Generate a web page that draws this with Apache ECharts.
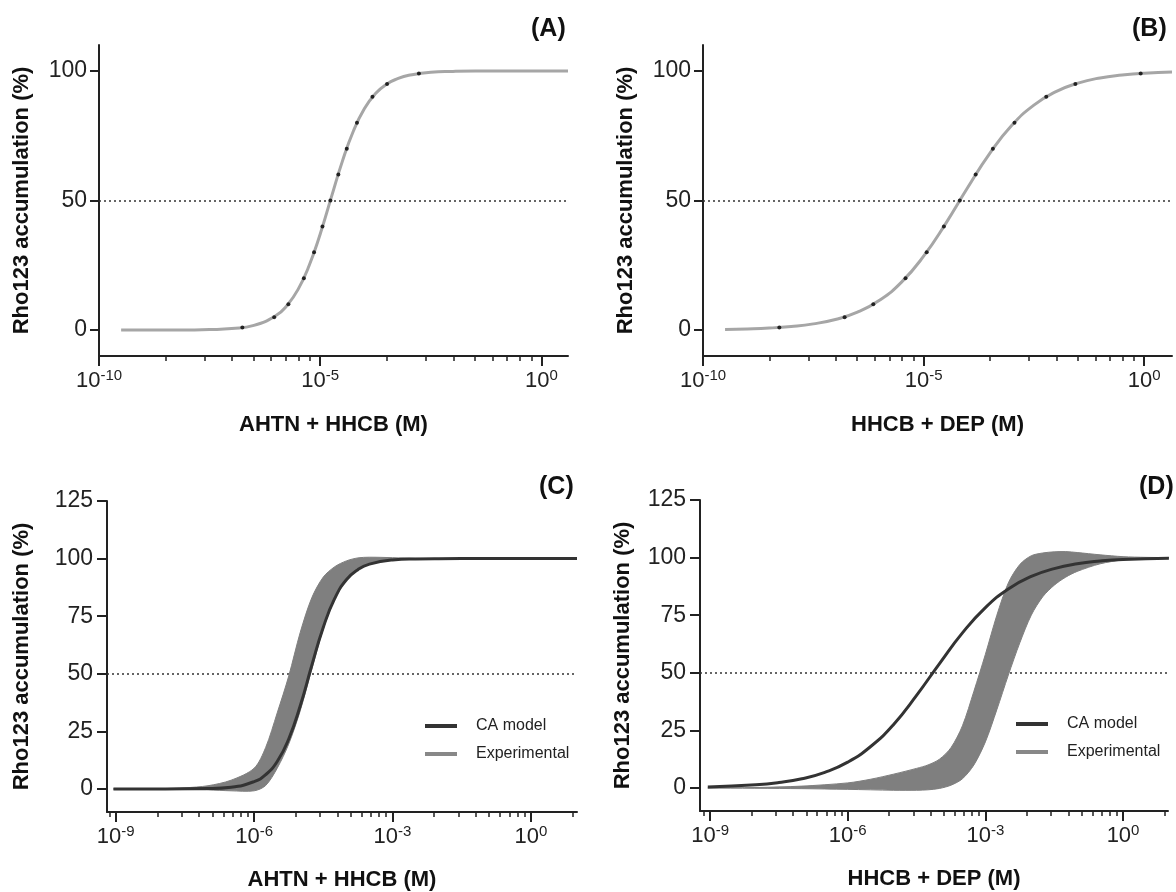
<!DOCTYPE html>
<html><head><meta charset="utf-8">
<script src="https://cdn.jsdelivr.net/npm/echarts@6/dist/echarts.min.js"></script>
<style>html,body{margin:0;padding:0;background:#fff}#c{width:1176px;height:892px}</style>
</head><body><div id="c"></div>
<script>
// ---------- data ----------
const panelLabels = ['(A)', '(B)', '(C)', '(D)'];
const xTitles = ['AHTN + HHCB (M)', 'HHCB + DEP (M)', 'AHTN + HHCB (M)', 'HHCB + DEP (M)'];
const yTitle = 'Rho123 accumulation (%)';
const legendNames = ['CA model', 'Experimental'];
const yTicksTop = [0, 50, 100];
const yTicksBottom = [0, 25, 50, 75, 100, 125];
const xMajorExpTop = [-10, -5, 0];
const xMajorExpBottom = [-9, -6, -3, 0];
const referenceLevel = 50;

// Panel A: fitted curve + points (x as log10 M)
const aCurveLogX = [-9.5,-9,-8.5,-8,-7.5,-7,-6.5,-6,-5.75,-5.5,-5.25,-5,-4.75,-4.5,-4.25,-4,-3.75,-3.5,-3.25,-3,-2.5,-2,-1.5,-1,0,0.6];
const aCurveY    = [0,0.01,0.02,0.06,0.19,0.59,1.8,5.6,9.5,15.7,24.9,37.1,51.2,65.1,76.8,85.5,91.3,94.9,97.0,98.3,99.5,99.8,99.95,99.98,100,100];
const aDotLogX = [-6.76,-6.04,-5.72,-5.37,-5.14,-4.95,-4.77,-4.59,-4.40,-4.17,-3.82,-3.49,-2.77];
const aDotY    = [1,5,10,20,30,40,50,60,70,80,90,95,99];

// Panel B
const bCurveLogX = [-9.5,-9,-8.5,-8,-7.5,-7,-6.5,-6,-5.5,-5,-4.5,-4,-3.5,-3,-2.5,-2,-1.5,-1,-0.5,0,0.63];
const bCurveY    = [0.26,0.45,0.78,1.4,2.4,4.1,6.9,11.5,18.5,28.5,41.1,55.0,68.2,79.0,86.8,92.0,95.3,97.3,98.4,99.1,99.55];
const bDotLogX = [-8.27,-6.79,-6.14,-5.41,-4.93,-4.54,-4.18,-3.82,-3.43,-2.94,-2.22,-1.56,-0.08];
const bDotY    = [1,5,10,20,30,40,50,60,70,80,90,95,99];

// Panel C: CA model line + experimental band
const cModelLogX = [-9.05,-8,-7,-6.5,-6,-5.75,-5.5,-5.25,-5,-4.75,-4.5,-4.25,-4,-3.75,-3.5,-3,-2.5,-2,-1,0,1];
const cModelY    = [0,0.01,0.19,0.77,3.2,6.2,11.9,21.7,36.1,53.6,70.2,82.8,90.8,95.2,97.6,99.4,99.86,99.97,100,100,100];
const cUpperLogX = [-9.05,-8,-7.5,-7,-6.5,-6,-5.75,-5.5,-5.25,-5,-4.75,-4.5,-4.25,-4,-3.75,-3.5,-3,-2.5,-2,1];
const cUpperY    = [0,0.15,0.5,1.4,3.8,9,18,33,49,68,83,92,96.5,99,100.3,100.6,100.4,100.1,100,100];
const cLowerLogX = [-9.05,-7,-6.5,-6,-5.75,-5.5,-5.25,-5,-4.75,-4.5,-4.25,-4,-3.75,-3.5,-3,-2.5,-2,1];
const cLowerY    = [0,-0.4,-0.8,-0.8,1.5,9,19.5,34,52,69.5,82.5,90.6,95.1,97.5,99.3,99.8,100,100];

// Panel D
const dModelLogX = [-9.05,-8,-7.5,-7,-6.5,-6,-5.5,-5,-4.5,-4,-3.5,-3,-2.5,-2,-1.5,-1,-0.5,0,1];
const dModelY    = [0.43,1.37,2.35,4.0,6.8,11.2,18.0,27.6,40.2,54.0,67.3,78.3,86.4,91.8,95.2,97.3,98.5,99.2,99.75];
const dUpperLogX = [-9.05,-8,-7,-6,-5.5,-5,-4.5,-4.25,-4,-3.75,-3.5,-3.25,-3,-2.75,-2.5,-2.25,-2,-1.75,-1.5,-1.25,-1,-0.5,0,0.5,1];
const dUpperY    = [0,0.2,0.8,2.2,3.8,6,8.5,10,12.5,17.5,27,42,58,75,89,97,100.8,102,102.5,102.6,102.2,101.2,100.4,100.1,100];
const dLowerLogX = [-9.05,-7,-6,-5,-4.5,-4.25,-4,-3.75,-3.5,-3.25,-3,-2.75,-2.5,-2.25,-2,-1.75,-1.5,-1.25,-1,-0.5,0,0.5,1];
const dLowerY    = [0,-0.3,-0.6,-1,-1,-0.8,-0.2,1.2,4,10,20,34,49,63,75,83,88,91.5,94,97.3,99,99.7,100];

// ---------- helpers ----------
const FONT = 'Liberation Sans, Arial, sans-serif';
const toPts = (lx, ys) => lx.map((e, i) => [Math.pow(10, e), ys[i]]);
function minorTicks(span, lo, hi) {
  const out = [];
  for (let s = Math.floor(lo / span) * span - span; s <= hi; s += span) {
    for (let k = 2; k <= 9; k++) {
      const e = s + span * Math.log10(k);
      if (e >= lo && e <= hi) out.push(Math.pow(10, e));
    }
  }
  return out;
}

const grids = [
  {left: 99, top: 45, width: 469, height: 311},
  {left: 703, top: 45, width: 469, height: 311},
  {left: 107, top: 501, width: 470, height: 312},
  {left: 700, top: 500, width: 468, height: 311}
];
const xRangeExp = [[-10, 0.6], [-10, 0.63], [-9.19, 1.0], [-9.22, 0.98]];
const yRange = [[-10, 110], [-10, 110], [-10, 125], [-10, 125]];
const majors = [xMajorExpTop, xMajorExpTop, xMajorExpBottom, xMajorExpBottom];
const spans = [5, 5, 3, 3];
const yTickSets = [yTicksTop, yTicksTop, yTicksBottom, yTicksBottom];
const yNameGap = [66, 66, 74, 66];
const xNameGap = [58, 58, 57, 57];
const yTickLen = [9, 9, 10, 10];
const yLabelMargin = [12, 12, 14, 14];

const xAxes = [], yAxes = [];
grids.forEach((g, i) => {
  const mn = Math.pow(10, xRangeExp[i][0]), mx = Math.pow(10, xRangeExp[i][1]);
  const majVals = majors[i].map(e => Math.pow(10, e));
  xAxes.push({
    type: 'log', logBase: 10, gridIndex: i, min: mn, max: mx, position: 'bottom',
    axisLine: {show: true, onZero: false, lineStyle: {color: '#222', width: 2}},
    axisTick: {show: true, customValues: majVals, length: 10, lineStyle: {color: '#222', width: 2}},
    axisLabel: {
      customValues: majVals, margin: 12,
      formatter: v => '{b|10}{s|' + Math.round(Math.log10(v)) + '}',
      rich: {
        b: {fontSize: 22, fontFamily: FONT, color: '#222'},
        s: {fontSize: 15, fontFamily: FONT, color: '#222', padding: [0, 0, 10, 0]}
      }
    },
    splitLine: {show: false}, minorTick: {show: false},
    name: xTitles[i], nameLocation: 'middle', nameGap: xNameGap[i],
    nameTextStyle: {fontFamily: FONT, fontSize: 22, fontWeight: 'bold', color: '#111'}
  });
  xAxes.push({
    type: 'log', logBase: 10, gridIndex: i, min: mn, max: mx, position: 'bottom',
    axisLine: {show: false, onZero: false},
    axisTick: {show: true, customValues: minorTicks(spans[i], xRangeExp[i][0], xRangeExp[i][1]), length: 5, lineStyle: {color: '#222', width: 1.5}},
    axisLabel: {show: false}, splitLine: {show: false}
  });
  yAxes.push({
    type: 'value', gridIndex: i, min: yRange[i][0], max: yRange[i][1],
    axisLine: {show: true, onZero: false, lineStyle: {color: '#222', width: 2}},
    axisTick: {show: true, customValues: yTickSets[i], length: yTickLen[i], lineStyle: {color: '#222', width: 2}},
    axisLabel: {customValues: yTickSets[i], fontSize: 23, fontFamily: FONT, color: '#222', margin: yLabelMargin[i]},
    splitLine: {show: false},
    name: yTitle, nameLocation: 'middle', nameGap: yNameGap[i],
    nameTextStyle: {fontFamily: FONT, fontSize: 22, fontWeight: 'bold', color: '#111'}
  });
});

const refLine = {
  silent: true, symbol: 'none', z: 1, label: {show: false},
  lineStyle: {color: '#333', type: [2, 3], width: 1.5},
  data: [{yAxis: referenceLevel}]
};

function bandSeries(idx, upper, lower) {
  const poly = upper.concat(lower.slice().reverse());
  return {
    type: 'custom', name: 'band' + idx, xAxisIndex: idx * 2, yAxisIndex: idx, z: 3, silent: true,
    data: poly,
    renderItem: (params, api) => {
      if (params.dataIndex !== 0) return null;
      const pts = poly.map(p => api.coord(p));
      return {type: 'polygon', shape: {points: pts, smooth: 0.3}, style: {fill: '#7f7f7f', stroke: '#7f7f7f', lineWidth: 1}};
    }
  };
}

const series = [
  {type: 'line', name: 'fitA', xAxisIndex: 0, yAxisIndex: 0, data: toPts(aCurveLogX, aCurveY), smooth: true, showSymbol: false,
   lineStyle: {color: '#a6a6a6', width: 3}, itemStyle: {color: '#a6a6a6'}, markLine: refLine, silent: true},
  {type: 'scatter', name: 'ptsA', xAxisIndex: 0, yAxisIndex: 0, data: toPts(aDotLogX, aDotY), symbolSize: 4, itemStyle: {color: '#000'}, z: 5, silent: true},
  {type: 'line', name: 'fitB', xAxisIndex: 2, yAxisIndex: 1, data: toPts(bCurveLogX, bCurveY), smooth: true, showSymbol: false,
   lineStyle: {color: '#a6a6a6', width: 3}, itemStyle: {color: '#a6a6a6'}, markLine: refLine, silent: true},
  {type: 'scatter', name: 'ptsB', xAxisIndex: 2, yAxisIndex: 1, data: toPts(bDotLogX, bDotY), symbolSize: 4, itemStyle: {color: '#000'}, z: 5, silent: true},
  bandSeries(2, toPts(cUpperLogX, cUpperY), toPts(cLowerLogX, cLowerY)),
  {type: 'line', name: legendNames[0], xAxisIndex: 4, yAxisIndex: 2, data: toPts(cModelLogX, cModelY), smooth: true, showSymbol: false, z: 4,
   lineStyle: {color: '#333', width: 3}, itemStyle: {color: '#333'}, markLine: refLine, silent: true},
  {type: 'line', name: legendNames[1], xAxisIndex: 4, yAxisIndex: 2, data: [], itemStyle: {color: '#888'}, lineStyle: {color: '#888'}},
  bandSeries(3, toPts(dUpperLogX, dUpperY), toPts(dLowerLogX, dLowerY)),
  {type: 'line', name: legendNames[0], xAxisIndex: 6, yAxisIndex: 3, data: toPts(dModelLogX, dModelY), smooth: true, showSymbol: false, z: 4,
   lineStyle: {color: '#333', width: 3}, itemStyle: {color: '#333'}, markLine: refLine, silent: true}
];

const legendBase = {
  data: legendNames, orient: 'vertical', icon: 'rect', itemWidth: 32, itemHeight: 4, itemGap: 10,
  selectedMode: false,
  textStyle: {fontFamily: FONT, fontSize: 16, color: '#222', lineHeight: 18, padding: [0, 0, 0, 14]}
};

const option = {
  animation: false,
  backgroundColor: '#fff',
  title: [
    {text: panelLabels[0], left: 531, top: 17},
    {text: panelLabels[1], left: 1132, top: 17},
    {text: panelLabels[2], left: 539, top: 475},
    {text: panelLabels[3], left: 1139, top: 475}
  ].map(t => Object.assign(t, {padding: 0, textStyle: {fontFamily: FONT, fontSize: 25, fontWeight: 'bold', color: '#111'}})),
  legend: [
    Object.assign({}, legendBase, {left: 420, top: 712}),
    Object.assign({}, legendBase, {left: 1011, top: 710})
  ],
  grid: grids,
  xAxis: xAxes,
  yAxis: yAxes,
  series: series
};

const chart = echarts.init(document.getElementById('c'), null, {renderer: 'canvas'});
chart.setOption(option);
</script>
</body></html>
